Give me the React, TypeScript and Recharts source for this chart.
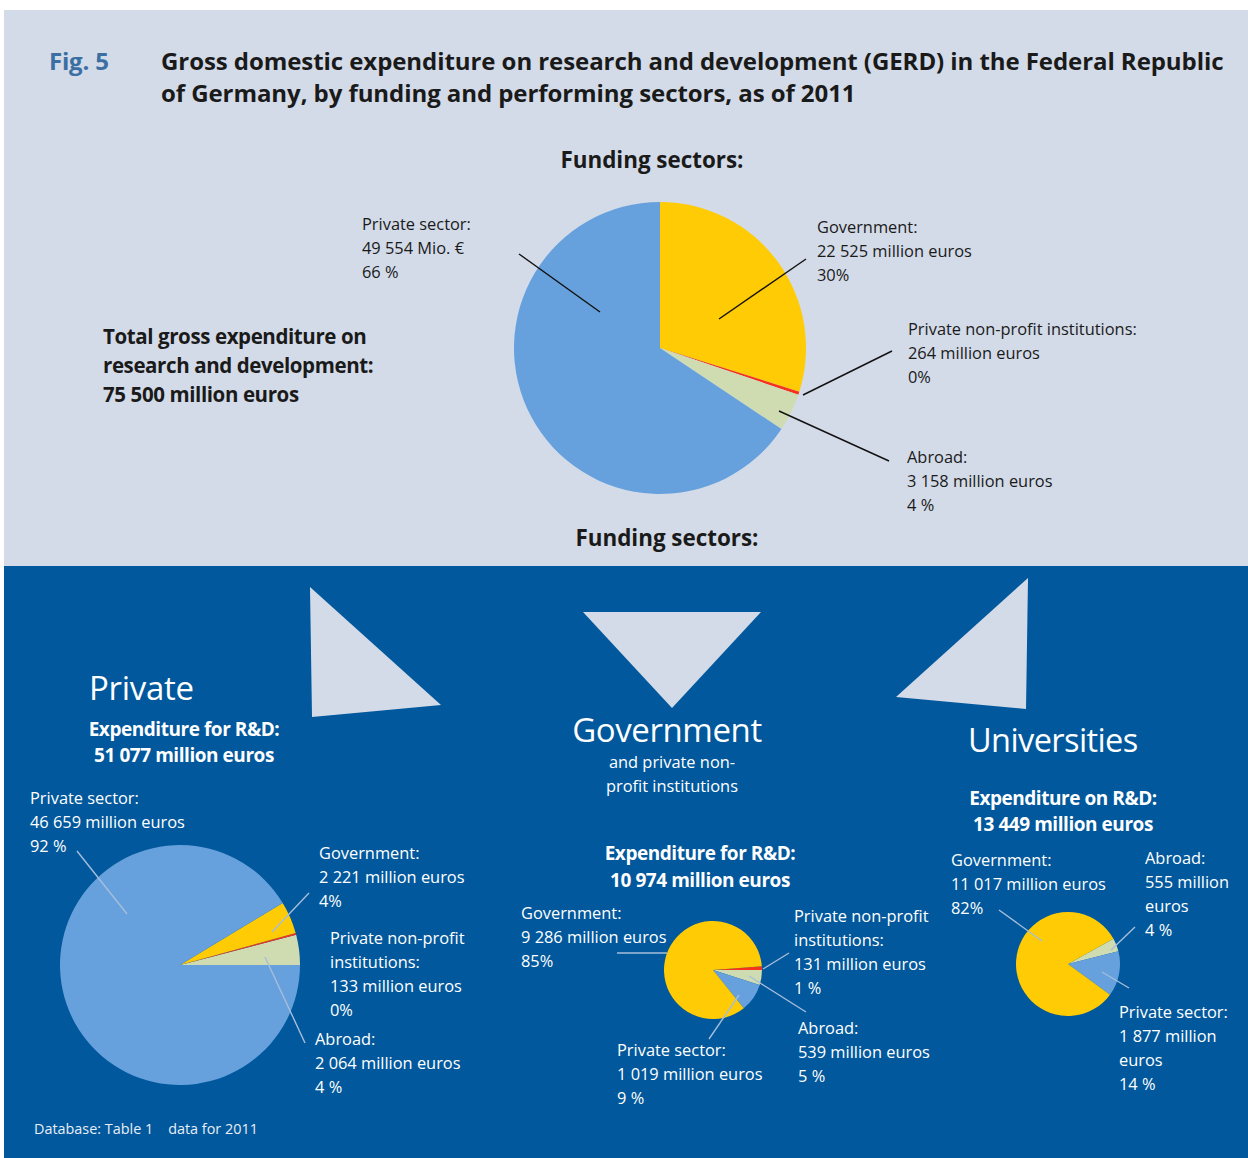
import { PieChart, Pie, Cell } from "recharts";

// ---- data (million euros, 2011) ----
const fundingSectors = ["Government", "Private non-profit institutions", "Abroad", "Private sector"];
const fundingValues = [22525, 264, 3158, 49554];

const privateSectors = ["Abroad", "Private non-profit institutions", "Government", "Private sector"];
const privateValues = [2064, 133, 2221, 46659];

const govSectors = ["Private non-profit institutions", "Abroad", "Private sector", "Government"];
const govValues = [131, 539, 1019, 9286];

const uniSectors = ["Abroad", "Private sector", "Government"];
const uniValues = [555, 1877, 11017];

const sectorColors: Record<string, string> = {
  Government: "#ffcb05",
  "Private non-profit institutions": "#f5331c",
  Abroad: "#cfdcb1",
  "Private sector": "#66a1dd",
};

const toRows = (names: string[], values: number[]) =>
  names.map((name, i) => ({ name, value: values[i] }));

const LIGHT = "#d3dbe8";
const DARK = "#01589c";
const LEADER = "#a6bedb";
const FONT = "'Open Sans', 'Noto Sans', sans-serif";

type TextProps = {
  x: number;
  y: number; // centre of first line
  lines: string[];
  size?: number;
  lh?: number;
  bold?: boolean;
  color?: string;
  center?: boolean;
  ls?: number;
};

function Txt({ x, y, lines, size = 16.4, lh = 24, bold, color = "#1a1a1a", center, ls = 0 }: TextProps) {
  const w = 500;
  return (
    <div
      style={{
        position: "absolute",
        left: center ? x - w / 2 : x,
        top: y - lh / 2,
        width: center ? w : undefined,
        textAlign: center ? "center" : "left",
        fontSize: size,
        lineHeight: `${lh}px`,
        fontWeight: bold ? 700 : 400,
        letterSpacing: ls,
        color,
        whiteSpace: "nowrap",
      }}
    >
      {lines.map((l, i) => (
        <div key={i}>{l}</div>
      ))}
    </div>
  );
}

// leader lines drawn over the pies
const blackLeaders = [
  [519, 254, 600, 312],
  [806, 259, 719, 319],
  [892, 351, 803, 395],
  [889, 461, 779, 411],
];
const lightLeaders = [
  [77, 851, 127, 914],
  [309, 893, 272, 932],
  [305, 1043, 265, 957],
  [617, 953, 667, 953],
  [789, 953, 763, 969],
  [806, 1012, 749, 976],
  [709, 1039, 739, 995],
  [999, 910, 1042, 941],
  [1135, 927, 1111, 950],
  [1129, 988, 1102, 972],
];

export default function App() {
  const govStart = (360 * govValues[0]) / govValues.reduce((a, b) => a + b, 0);
  const W = "#ffffff";
  return (
    <div
      style={{
        position: "absolute",
        left: 0,
        top: 0,
        width: 1248,
        height: 1158,
        background: "#ffffff",
        fontFamily: FONT,
        overflow: "hidden",
      }}
    >
      <div style={{ position: "absolute", left: 4, top: 10, width: 1244, height: 556, background: LIGHT }} />
      <div style={{ position: "absolute", left: 4, top: 566, width: 1244, height: 592, background: DARK }} />

      <svg width={1248} height={1158} style={{ position: "absolute", left: 0, top: 0 }}>
        <polygon points="310,587 441,705 312,717" fill={LIGHT} />
        <polygon points="583,612 761,612 672,708" fill={LIGHT} />
        <polygon points="1028,578 896,697 1026,709" fill={LIGHT} />
      </svg>

      <div style={{ position: "absolute", left: 0, top: 0 }}>
        <PieChart width={1248} height={1158} margin={{ top: 0, right: 0, bottom: 0, left: 0 }}>
          <Pie
            data={toRows(fundingSectors, fundingValues)}
            dataKey="value"
            cx={660}
            cy={348}
            outerRadius={146}
            startAngle={90}
            endAngle={-270}
            stroke="none"
            isAnimationActive={false}
          >
            {fundingSectors.map((s) => (
              <Cell key={s} fill={sectorColors[s]} />
            ))}
          </Pie>
          <Pie
            data={toRows(privateSectors, privateValues)}
            dataKey="value"
            cx={180}
            cy={965}
            outerRadius={120}
            startAngle={0}
            endAngle={360}
            stroke="none"
            isAnimationActive={false}
          >
            {privateSectors.map((s) => (
              <Cell key={s} fill={sectorColors[s]} />
            ))}
          </Pie>
          <Pie
            data={toRows(govSectors, govValues)}
            dataKey="value"
            cx={713}
            cy={970}
            outerRadius={49}
            startAngle={govStart}
            endAngle={govStart - 360}
            stroke="none"
            isAnimationActive={false}
          >
            {govSectors.map((s) => (
              <Cell key={s} fill={sectorColors[s]} />
            ))}
          </Pie>
          <Pie
            data={toRows(uniSectors, uniValues)}
            dataKey="value"
            cx={1068}
            cy={964}
            outerRadius={52}
            startAngle={29}
            endAngle={-331}
            stroke="none"
            isAnimationActive={false}
          >
            {uniSectors.map((s) => (
              <Cell key={s} fill={sectorColors[s]} />
            ))}
          </Pie>
        </PieChart>
      </div>

      <svg width={1248} height={1158} style={{ position: "absolute", left: 0, top: 0, pointerEvents: "none" }}>
        {blackLeaders.map(([x1, y1, x2, y2], i) => (
          <line key={i} x1={x1} y1={y1} x2={x2} y2={y2} stroke="#111" strokeWidth={1.4} />
        ))}
        {lightLeaders.map(([x1, y1, x2, y2], i) => (
          <line key={i} x1={x1} y1={y1} x2={x2} y2={y2} stroke={LEADER} strokeWidth={1.4} />
        ))}
      </svg>

      {/* header */}
      <Txt x={49} y={61} lines={["Fig. 5"]} size={24} lh={32} bold color="#3b6fa3" ls={-0.2} />
      <Txt
        x={161}
        y={61}
        lines={[
          "Gross domestic expenditure on research and development (GERD) in the Federal Republic",
          "of Germany, by funding and performing sectors, as of 2011",
        ]}
        size={24}
        lh={32}
        bold
        ls={-0.07}
      />
      <Txt x={652} y={160} lines={["Funding sectors:"]} size={22.4} lh={28} bold center />

      {/* top pie labels */}
      <Txt x={362} y={224} lines={["Private sector:", "49 554 Mio. €", "66 %"]} />
      <Txt
        x={103}
        y={336}
        lines={["Total gross expenditure on", "research and development:", "75 500 million euros"]}
        size={20.5}
        lh={29}
        bold
        ls={-0.4}
      />
      <Txt x={817} y={227} lines={["Government:", "22 525 million euros", "30%"]} />
      <Txt x={908} y={329} lines={["Private non-profit institutions:", "264 million euros", "0%"]} />
      <Txt x={907} y={457} lines={["Abroad:", "3 158 million euros", "4 %"]} />
      <Txt x={667} y={538} lines={["Funding sectors:"]} size={22.4} lh={28} bold center />

      {/* private */}
      <Txt x={89} y={688} lines={["Private"]} size={33} lh={40} color={W} ls={-0.3} />
      <Txt x={184} y={729} lines={["Expenditure for R&D:", "51 077 million euros"]} size={19} lh={26} bold color={W} center ls={-0.45} />
      <Txt x={30} y={798} lines={["Private sector:", "46 659 million euros", "92 %"]} color={W} />
      <Txt x={319} y={853} lines={["Government:", "2 221 million euros", "4%"]} color={W} />
      <Txt x={330} y={938} lines={["Private non-profit", "institutions:", "133 million euros", "0%"]} color={W} />
      <Txt x={315} y={1039} lines={["Abroad:", "2 064 million euros", "4 %"]} color={W} />
      <Txt x={34} y={1129} lines={["Database: Table 1\u00a0\u00a0\u00a0\u00a0data for 2011"]} size={14.4} lh={20} color="#e8eef6" />

      {/* government */}
      <Txt x={667} y={730} lines={["Government"]} size={33} lh={40} color={W} center ls={-0.4} />
      <Txt x={672} y={762} lines={["and private non-", "profit institutions"]} size={16.4} lh={24} color={W} center />
      <Txt x={700} y={853} lines={["Expenditure for R&D:", "10 974 million euros"]} size={19} lh={27} bold color={W} center ls={-0.45} />
      <Txt x={521} y={913} lines={["Government:", "9 286 million euros", "85%"]} color={W} />
      <Txt x={794} y={916} lines={["Private non-profit", "institutions:", "131 million euros", "1 %"]} color={W} />
      <Txt x={798} y={1028} lines={["Abroad:", "539 million euros", "5 %"]} color={W} />
      <Txt x={617} y={1050} lines={["Private sector:", "1 019 million euros", "9 %"]} color={W} />

      {/* universities */}
      <Txt x={968} y={740} lines={["Universities"]} size={32.5} lh={40} color={W} ls={-0.6} />
      <Txt x={1063} y={798} lines={["Expenditure on R&D:", "13 449 million euros"]} size={19} lh={26} bold color={W} center ls={-0.45} />
      <Txt x={951} y={860} lines={["Government:", "11 017 million euros", "82%"]} color={W} />
      <Txt x={1145} y={858} lines={["Abroad:", "555 million", "euros", "4 %"]} color={W} />
      <Txt x={1119} y={1012} lines={["Private sector:", "1 877 million", "euros", "14 %"]} color={W} />
    </div>
  );
}
